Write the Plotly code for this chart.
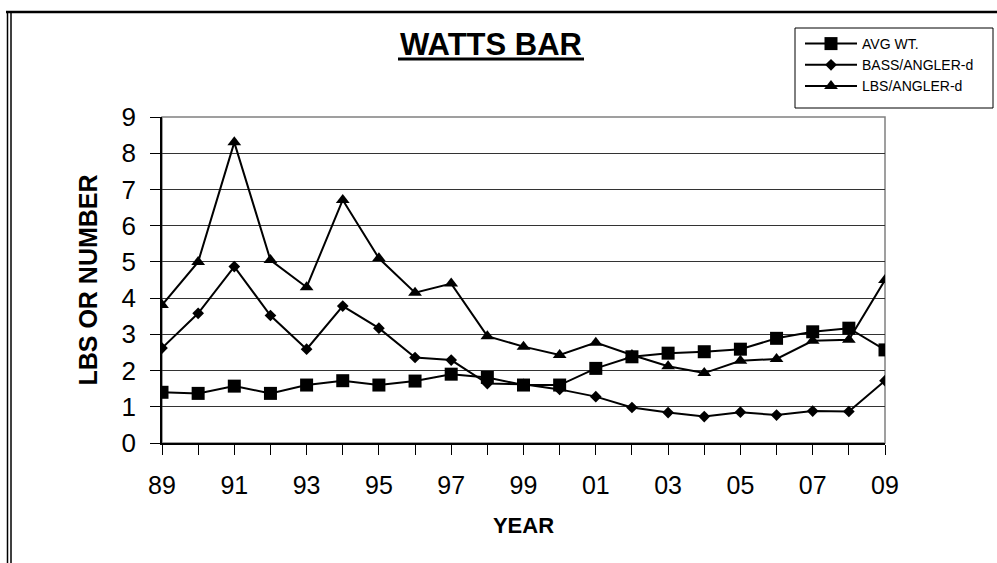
import plotly.graph_objects as go

# ---- data ----
years = list(range(1989, 2010))
year_labels = ["89", "", "91", "", "93", "", "95", "", "97", "", "99", "",
               "01", "", "03", "", "05", "", "07", "", "09"]
avg_wt = [1.40, 1.37, 1.57, 1.37, 1.60, 1.72, 1.60, 1.71, 1.90, 1.81, 1.60,
          1.60, 2.06, 2.38, 2.48, 2.52, 2.59, 2.89, 3.07, 3.17, 2.57]
bass_per_angler = [2.62, 3.58, 4.87, 3.52, 2.59, 3.78, 3.17, 2.36, 2.29, 1.64, 1.62,
                   1.48, 1.28, 0.98, 0.84, 0.73, 0.85, 0.77, 0.88, 0.87, 1.72]
lbs_per_angler = [3.81, 5.00, 8.30, 5.05, 4.30, 6.71, 5.10, 4.15, 4.40, 2.95, 2.66,
                  2.43, 2.77, 2.43, 2.12, 1.93, 2.27, 2.32, 2.82, 2.85, 4.50]
y_ticks = list(range(0, 10))

FONT = "Liberation Sans, Arial, sans-serif"
W, H = 997, 563
L, R, T, B = 162, 885, 117, 443  # plot-area pixel box


def px(xp):
    return (xp - L) / (R - L)


def py(yp):
    return (B - yp) / (B - T)


fig = go.Figure()
line = dict(color="black", width=2)
fig.add_trace(go.Scatter(x=years, y=avg_wt, name="AVG WT.", mode="lines+markers",
                         line=line, marker=dict(symbol="square", size=13, color="black")))
fig.add_trace(go.Scatter(x=years, y=bass_per_angler, name="BASS/ANGLER-d", mode="lines+markers",
                         line=line, marker=dict(symbol="diamond", size=9, color="black")))
fig.add_trace(go.Scatter(x=years, y=lbs_per_angler, name="LBS/ANGLER-d", mode="lines+markers",
                         line=line, marker=dict(symbol="triangle-up", size=12, color="black")))

shapes = [
    # plot-area border (grey top/right)
    dict(type="rect", xref="paper", yref="paper", x0=0, x1=1, y0=0, y1=1,
         line=dict(color="#808080", width=1.5), layer="between"),
    # title underline
    dict(type="line", xref="paper", yref="paper", x0=px(398), x1=px(584), y0=py(59), y1=py(59),
         line=dict(color="black", width=3)),
    # legend box
    dict(type="rect", xref="paper", yref="paper", x0=px(795), x1=px(993), y0=py(28), y1=py(108),
         line=dict(color="black", width=1)),
    # outer frame
    dict(type="line", xref="paper", yref="paper", x0=px(6), x1=px(997), y0=py(12), y1=py(12),
         line=dict(color="black", width=2.5)),
    dict(type="line", xref="paper", yref="paper", x0=px(7.5), x1=px(7.5), y0=py(12), y1=py(563),
         line=dict(color="black", width=1.5)),
    dict(type="line", xref="paper", yref="paper", x0=px(11), x1=px(11), y0=py(12), y1=py(563),
         line=dict(color="black", width=1.5)),
]

fig.update_layout(
    width=W, height=H,
    margin=dict(l=L, r=W - R, t=T, b=H - B, pad=0),
    paper_bgcolor="white", plot_bgcolor="white",
    font=dict(family=FONT, color="black"),
    title=dict(text="<b>WATTS BAR</b>", font=dict(family=FONT, size=31, color="black"),
               xref="container", yref="container", x=491 / W, y=1 - 44 / H,
               xanchor="center", yanchor="middle"),
    showlegend=True,
    legend=dict(x=px(800), y=py(28), xanchor="left", yanchor="top",
                bgcolor="rgba(0,0,0,0)", borderwidth=0, itemwidth=52,
                font=dict(family=FONT, size=14, color="black"), tracegroupgap=0),
    shapes=shapes,
    xaxis=dict(range=[years[0], years[-1]], tickvals=years, ticktext=year_labels,
               showgrid=False, zeroline=False, showline=True, linecolor="black", linewidth=1.5,
               ticks="outside", ticklen=10, tickcolor="black", tickwidth=1,
               tickfont=dict(family=FONT, size=25, color="black"), ticklabelstandoff=9,
               title=dict(text="<b>YEAR</b>", font=dict(family=FONT, size=22, color="black"),
                          standoff=20)),
    yaxis=dict(range=[0, 9], tickvals=y_ticks, showgrid=True, gridcolor="#333333", gridwidth=1,
               zeroline=False, showline=True, linecolor="black", linewidth=1.5,
               ticks="outside", ticklen=10, tickcolor="black", tickwidth=1,
               tickfont=dict(family=FONT, size=26, color="black"), ticklabelstandoff=9,
               title=dict(text="<b>LBS OR NUMBER</b>", font=dict(family=FONT, size=25, color="black"),
                          standoff=17)),
)

fig.write_html("out.html", config={"displayModeBar": False},
               post_script="document.body.style.margin='0';")
